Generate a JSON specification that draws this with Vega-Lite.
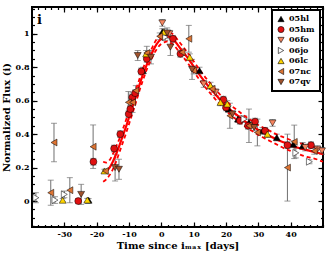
{
  "$schema": "https://vega.github.io/schema/vega-lite/v6.json",
  "width": 291,
  "height": 220,
  "autosize": "none",
  "padding": {"left": 32, "top": 7, "right": 4, "bottom": 28},
  "config": {
    "view": {"stroke": "black", "strokeWidth": 2},
    "font": "DejaVu Serif",
    "axis": {"domain": false, "grid": false, "labelFont": "DejaVu Serif", "labelFontWeight": "bold", "labelFontSize": 8, "labelColor": "black", "titleFont": "DejaVu Serif", "titleFontWeight": "bold", "titleFontSize": 10, "titleColor": "black", "tickColor": "black", "tickWidth": 1.2},
    "legend": {"orient": "top-right", "offset": 3, "strokeColor": "black", "strokeWidth": 2, "fillColor": "white", "padding": 5, "labelFont": "DejaVu Serif", "labelFontWeight": "bold", "labelFontSize": 8, "labelColor": "black", "rowPadding": 1.5, "symbolSize": 38, "titlePadding": 0}
  },
  "datasets": {
    "pts": [
      {"sn":"05hl","t":-22.5,"y":0.005,"lo":-0.005,"hi":0.015},
      {"sn":"05hl","t":-5.7,"y":0.78,"lo":0.76,"hi":0.80},
      {"sn":"05hl","t":0.3,"y":1.01,"lo":0.99,"hi":1.03},
      {"sn":"05hl","t":11.8,"y":0.78,"lo":0.76,"hi":0.80},
      {"sn":"05hl","t":20.8,"y":0.55,"lo":0.53,"hi":0.57},
      {"sn":"05hl","t":23.7,"y":0.49,"lo":0.47,"hi":0.51},
      {"sn":"05hl","t":27.1,"y":0.47,"lo":0.45,"hi":0.49},
      {"sn":"05hl","t":31.3,"y":0.42,"lo":0.40,"hi":0.44},
      {"sn":"05hl","t":35.7,"y":0.38,"lo":0.36,"hi":0.40},
      {"sn":"05hl","t":40.8,"y":0.34,"lo":0.32,"hi":0.36},
      {"sn":"05hl","t":43.7,"y":0.33,"lo":0.31,"hi":0.35},
      {"sn":"05hm","t":-25.7,"y":0.0,"lo":-0.015,"hi":0.015},
      {"sn":"05hm","t":-21.0,"y":0.235,"lo":0.215,"hi":0.255},
      {"sn":"05hm","t":-14.6,"y":0.314,"lo":0.294,"hi":0.334},
      {"sn":"05hm","t":-12.7,"y":0.40,"lo":0.38,"hi":0.42},
      {"sn":"05hm","t":-10.1,"y":0.52,"lo":0.50,"hi":0.54},
      {"sn":"05hm","t":-9.6,"y":0.55,"lo":0.53,"hi":0.57},
      {"sn":"05hm","t":-9.0,"y":0.62,"lo":0.60,"hi":0.64},
      {"sn":"05hm","t":-8.1,"y":0.645,"lo":0.625,"hi":0.665},
      {"sn":"05hm","t":-6.2,"y":0.775,"lo":0.755,"hi":0.795},
      {"sn":"05hm","t":-4.5,"y":0.85,"lo":0.83,"hi":0.87},
      {"sn":"05hm","t":3.6,"y":0.97,"lo":0.95,"hi":0.99},
      {"sn":"05hm","t":5.9,"y":0.88,"lo":0.86,"hi":0.90},
      {"sn":"05hm","t":19.2,"y":0.606,"lo":0.586,"hi":0.626},
      {"sn":"05hm","t":20.0,"y":0.56,"lo":0.54,"hi":0.58},
      {"sn":"05hm","t":24.3,"y":0.48,"lo":0.46,"hi":0.50},
      {"sn":"05hm","t":26.8,"y":0.45,"lo":0.43,"hi":0.47},
      {"sn":"05hm","t":29.0,"y":0.475,"lo":0.455,"hi":0.495},
      {"sn":"05hm","t":32.1,"y":0.42,"lo":0.40,"hi":0.44},
      {"sn":"05hm","t":39.0,"y":0.334,"lo":0.314,"hi":0.354},
      {"sn":"05hm","t":46.3,"y":0.334,"lo":0.314,"hi":0.354},
      {"sn":"06fo","t":0.3,"y":1.065,"lo":1.045,"hi":1.085},
      {"sn":"06fo","t":2.5,"y":1.0,"lo":0.98,"hi":1.02},
      {"sn":"06fo","t":13.1,"y":0.70,"lo":0.68,"hi":0.72},
      {"sn":"06fo","t":16.8,"y":0.65,"lo":0.63,"hi":0.67},
      {"sn":"06fo","t":34.4,"y":0.467,"lo":0.447,"hi":0.487},
      {"sn":"06fo","t":44.5,"y":0.32,"lo":0.30,"hi":0.34},
      {"sn":"06fo","t":48.3,"y":0.31,"lo":0.29,"hi":0.33},
      {"sn":"06fo","t":49.7,"y":0.30,"lo":0.28,"hi":0.32},
      {"sn":"06jo","t":-38.8,"y":0.02,"lo":-0.01,"hi":0.05},
      {"sn":"06jo","t":-32.9,"y":0.006,"lo":-0.014,"hi":0.026},
      {"sn":"06jo","t":-30.0,"y":0.04,"lo":0.02,"hi":0.06},
      {"sn":"06jo","t":1.2,"y":0.98,"lo":0.96,"hi":1.0},
      {"sn":"06jo","t":25.6,"y":0.49,"lo":0.47,"hi":0.51},
      {"sn":"06jo","t":41.6,"y":0.288,"lo":0.258,"hi":0.318},
      {"sn":"06jo","t":45.8,"y":0.235,"lo":0.223,"hi":0.247},
      {"sn":"06lc","t":-30.5,"y":0.005,"lo":-0.005,"hi":0.015},
      {"sn":"06lc","t":-22.9,"y":0.006,"lo":-0.004,"hi":0.016},
      {"sn":"06lc","t":-17.6,"y":0.18,"lo":0.17,"hi":0.19},
      {"sn":"06lc","t":-4.7,"y":0.88,"lo":0.86,"hi":0.90},
      {"sn":"06lc","t":0.8,"y":1.01,"lo":0.99,"hi":1.03},
      {"sn":"06lc","t":8.8,"y":0.86,"lo":0.84,"hi":0.88},
      {"sn":"06lc","t":15.2,"y":0.69,"lo":0.67,"hi":0.71},
      {"sn":"06lc","t":18.3,"y":0.59,"lo":0.57,"hi":0.61},
      {"sn":"06lc","t":20.4,"y":0.58,"lo":0.56,"hi":0.60},
      {"sn":"06lc","t":32.8,"y":0.40,"lo":0.38,"hi":0.42},
      {"sn":"07nc","t":-34.2,"y":0.05,"lo":-0.025,"hi":0.125},
      {"sn":"07nc","t":-33.2,"y":0.35,"lo":0.235,"hi":0.465},
      {"sn":"07nc","t":-28.3,"y":0.065,"lo":-0.01,"hi":0.14},
      {"sn":"07nc","t":-21.1,"y":0.325,"lo":0.195,"hi":0.455},
      {"sn":"07nc","t":-17.3,"y":0.18,"lo":0.17,"hi":0.19},
      {"sn":"07nc","t":-10.2,"y":0.59,"lo":0.525,"hi":0.655},
      {"sn":"07nc","t":-8.9,"y":0.59,"lo":0.53,"hi":0.65},
      {"sn":"07nc","t":-7.9,"y":0.66,"lo":0.63,"hi":0.69},
      {"sn":"07nc","t":-4.5,"y":0.885,"lo":0.845,"hi":0.925},
      {"sn":"07nc","t":-0.5,"y":0.985,"lo":0.965,"hi":1.005},
      {"sn":"07nc","t":6.4,"y":0.89,"lo":0.87,"hi":0.91},
      {"sn":"07nc","t":8.5,"y":0.97,"lo":0.89,"hi":1.05},
      {"sn":"07nc","t":10.0,"y":0.78,"lo":0.76,"hi":0.80},
      {"sn":"07nc","t":15.7,"y":0.67,"lo":0.65,"hi":0.69},
      {"sn":"07nc","t":21.2,"y":0.51,"lo":0.435,"hi":0.585},
      {"sn":"07nc","t":27.1,"y":0.45,"lo":0.35,"hi":0.55},
      {"sn":"07nc","t":29.7,"y":0.41,"lo":0.33,"hi":0.49},
      {"sn":"07nc","t":39.0,"y":0.2,"lo":0.0,"hi":0.4},
      {"sn":"07nc","t":41.1,"y":0.354,"lo":0.254,"hi":0.454},
      {"sn":"07nc","t":47.3,"y":0.30,"lo":0.28,"hi":0.32},
      {"sn":"07qv","t":-24.8,"y":0.04,"lo":-0.02,"hi":0.10},
      {"sn":"07qv","t":-14.3,"y":0.2,"lo":0.12,"hi":0.28},
      {"sn":"07qv","t":-13.1,"y":0.19,"lo":0.13,"hi":0.25},
      {"sn":"07qv","t":-7.3,"y":0.87,"lo":0.84,"hi":0.90},
      {"sn":"07qv","t":-3.2,"y":0.86,"lo":0.82,"hi":0.90},
      {"sn":"07qv","t":1.8,"y":1.005,"lo":0.975,"hi":1.035},
      {"sn":"07qv","t":2.8,"y":0.92,"lo":0.87,"hi":0.97},
      {"sn":"07qv","t":9.5,"y":0.787,"lo":0.727,"hi":0.847},
      {"sn":"07qv","t":22.0,"y":0.52,"lo":0.50,"hi":0.54},
      {"sn":"07qv","t":28.7,"y":0.44,"lo":0.42,"hi":0.46}
    ],
    "fit": [
      {"t":-18,"y":0.175,"lo":0.115,"hi":0.235},
      {"t":-17,"y":0.18,"lo":0.13,"hi":0.23},
      {"t":-16,"y":0.2,"lo":0.155,"hi":0.245},
      {"t":-15,"y":0.235,"lo":0.19,"hi":0.28},
      {"t":-14,"y":0.28,"lo":0.235,"hi":0.325},
      {"t":-13,"y":0.33,"lo":0.29,"hi":0.37},
      {"t":-12,"y":0.385,"lo":0.345,"hi":0.425},
      {"t":-11,"y":0.44,"lo":0.4,"hi":0.48},
      {"t":-10,"y":0.5,"lo":0.46,"hi":0.54},
      {"t":-9,"y":0.56,"lo":0.52,"hi":0.6},
      {"t":-8,"y":0.62,"lo":0.58,"hi":0.66},
      {"t":-7,"y":0.68,"lo":0.645,"hi":0.715},
      {"t":-6,"y":0.74,"lo":0.705,"hi":0.775},
      {"t":-5,"y":0.79,"lo":0.76,"hi":0.825},
      {"t":-4,"y":0.84,"lo":0.81,"hi":0.87},
      {"t":-3,"y":0.88,"lo":0.85,"hi":0.91},
      {"t":-2,"y":0.92,"lo":0.89,"hi":0.95},
      {"t":-1,"y":0.95,"lo":0.92,"hi":0.98},
      {"t":0,"y":0.97,"lo":0.94,"hi":1.0},
      {"t":1,"y":0.98,"lo":0.95,"hi":1.01},
      {"t":2,"y":0.985,"lo":0.955,"hi":1.015},
      {"t":3,"y":0.975,"lo":0.945,"hi":1.005},
      {"t":4,"y":0.96,"lo":0.93,"hi":0.99},
      {"t":5,"y":0.935,"lo":0.905,"hi":0.965},
      {"t":6,"y":0.91,"lo":0.88,"hi":0.94},
      {"t":8,"y":0.86,"lo":0.83,"hi":0.89},
      {"t":10,"y":0.805,"lo":0.775,"hi":0.835},
      {"t":12,"y":0.75,"lo":0.72,"hi":0.78},
      {"t":14,"y":0.7,"lo":0.67,"hi":0.73},
      {"t":16,"y":0.655,"lo":0.625,"hi":0.685},
      {"t":18,"y":0.61,"lo":0.58,"hi":0.64},
      {"t":20,"y":0.57,"lo":0.54,"hi":0.6},
      {"t":22,"y":0.535,"lo":0.505,"hi":0.565},
      {"t":24,"y":0.505,"lo":0.475,"hi":0.535},
      {"t":26,"y":0.475,"lo":0.445,"hi":0.505},
      {"t":28,"y":0.45,"lo":0.42,"hi":0.48},
      {"t":30,"y":0.425,"lo":0.395,"hi":0.455},
      {"t":32,"y":0.405,"lo":0.375,"hi":0.435},
      {"t":34,"y":0.385,"lo":0.355,"hi":0.415},
      {"t":36,"y":0.365,"lo":0.335,"hi":0.395},
      {"t":38,"y":0.35,"lo":0.315,"hi":0.38},
      {"t":40,"y":0.335,"lo":0.3,"hi":0.365},
      {"t":42,"y":0.32,"lo":0.285,"hi":0.35},
      {"t":44,"y":0.31,"lo":0.27,"hi":0.34},
      {"t":46,"y":0.3,"lo":0.26,"hi":0.33},
      {"t":48,"y":0.29,"lo":0.25,"hi":0.32},
      {"t":50,"y":0.28,"lo":0.235,"hi":0.31}
    ],
    "lab": [{"t": -37.7, "y": 1.08, "text": "i"}]
  },
  "layer": [
    {
      "mark": {"type": "rule", "color": "#777777", "strokeDash": [5, 4], "strokeWidth": 1},
      "encoding": {
        "y": {"datum": 0, "type": "quantitative", "scale": {"domain": [-0.155, 1.16], "nice": false, "zero": false}, "axis": null}
      }
    },
    {
      "mark": {"type": "rule", "color": "black", "strokeDash": [4, 3], "strokeWidth": 1},
      "encoding": {
        "x": {"datum": 0, "type": "quantitative", "scale": {"domain": [-40, 50], "nice": false, "zero": false}, "axis": null},
        "y": {"datum": 0, "type": "quantitative", "scale": {"domain": [-0.155, 1.16], "nice": false, "zero": false}, "axis": null},
        "y2": {"datum": 1.08}
      }
    },
    {
      "data": {"name": "pts"},
      "mark": {"type": "errorbar", "color": "#707070", "thickness": 1, "ticks": {"size": 6, "color": "#707070"}},
      "encoding": {
        "x": {"field": "t", "type": "quantitative", "scale": {"domain": [-40, 50], "nice": false, "zero": false},
              "axis": {"orient": "bottom", "values": [-30, -20, -10, 0, 10, 20, 30, 40], "tickSize": -5, "labelPadding": 8, "labelExpr": "'' + datum.value", "title": "Time since iₘₐₓ [days]", "titlePadding": 2}},
        "y": {"field": "lo", "type": "quantitative", "scale": {"domain": [-0.155, 1.16], "nice": false, "zero": false},
              "axis": {"orient": "left", "values": [0, 0.2, 0.4, 0.6, 0.8, 1], "tickSize": -5, "labelPadding": 8, "labelExpr": "'' + datum.value", "title": "Normalized Flux (i)", "titlePadding": 4}},
        "y2": {"field": "hi"}
      }
    },
    {
      "data": {"name": "fit"},
      "mark": {"type": "line", "color": "#ff0000", "strokeWidth": 2.2, "interpolate": "monotone"},
      "encoding": {
        "x": {"field": "t", "type": "quantitative", "scale": {"domain": [-40, 50], "nice": false, "zero": false},
              "axis": {"orient": "top", "values": [-30, -20, -10, 0, 10, 20, 30, 40], "tickSize": -5, "labels": false, "title": null}},
        "y": {"field": "y", "type": "quantitative", "scale": {"domain": [-0.155, 1.16], "nice": false, "zero": false},
              "axis": {"orient": "right", "values": [0, 0.2, 0.4, 0.6, 0.8, 1], "tickSize": -5, "labels": false, "title": null}}
      }
    },
    {
      "data": {"name": "fit"},
      "mark": {"type": "line", "color": "#ff0000", "strokeWidth": 1.8, "strokeDash": [4, 3], "interpolate": "monotone"},
      "encoding": {
        "x": {"field": "t", "type": "quantitative", "scale": {"domain": [-40, 50], "nice": false, "zero": false},
              "axis": {"orient": "top", "values": [-40, -38, -36, -34, -32, -30, -28, -26, -24, -22, -20, -18, -16, -14, -12, -10, -8, -6, -4, -2, 0, 2, 4, 6, 8, 10, 12, 14, 16, 18, 20, 22, 24, 26, 28, 30, 32, 34, 36, 38, 40, 42, 44, 46, 48, 50], "tickSize": -2.5, "labels": false, "title": null}},
        "y": {"field": "hi", "type": "quantitative", "scale": {"domain": [-0.155, 1.16], "nice": false, "zero": false},
              "axis": {"orient": "right", "values": [-0.15, -0.1, -0.05, 0, 0.05, 0.1, 0.15, 0.2, 0.25, 0.3, 0.35, 0.4, 0.45, 0.5, 0.55, 0.6, 0.65, 0.7, 0.75, 0.8, 0.85, 0.9, 0.95, 1, 1.05, 1.1, 1.15], "tickSize": -2.5, "labels": false, "title": null}}
      }
    },
    {
      "data": {"name": "fit"},
      "mark": {"type": "line", "color": "#ff0000", "strokeWidth": 1.8, "strokeDash": [4, 3], "interpolate": "monotone"},
      "encoding": {
        "x": {"field": "t", "type": "quantitative", "scale": {"domain": [-40, 50], "nice": false, "zero": false}, "axis": null},
        "y": {"field": "lo", "type": "quantitative", "scale": {"domain": [-0.155, 1.16], "nice": false, "zero": false}, "axis": null}
      }
    },
    {
      "data": {"name": "pts"},
      "mark": {"type": "point", "filled": true, "stroke": "black", "strokeWidth": 0.5, "size": 48, "opacity": 1},
      "encoding": {
        "x": {"field": "t", "type": "quantitative", "scale": {"domain": [-40, 50], "nice": false, "zero": false},
              "axis": {"orient": "bottom", "values": [-40, -38, -36, -34, -32, -30, -28, -26, -24, -22, -20, -18, -16, -14, -12, -10, -8, -6, -4, -2, 0, 2, 4, 6, 8, 10, 12, 14, 16, 18, 20, 22, 24, 26, 28, 30, 32, 34, 36, 38, 40, 42, 44, 46, 48, 50], "tickSize": -2.5, "labels": false, "title": null}},
        "y": {"field": "y", "type": "quantitative", "scale": {"domain": [-0.155, 1.16], "nice": false, "zero": false},
              "axis": {"orient": "left", "values": [-0.15, -0.1, -0.05, 0, 0.05, 0.1, 0.15, 0.2, 0.25, 0.3, 0.35, 0.4, 0.45, 0.5, 0.55, 0.6, 0.65, 0.7, 0.75, 0.8, 0.85, 0.9, 0.95, 1, 1.05, 1.1, 1.15], "tickSize": -2.5, "labels": false, "title": null}},
        "fill": {"field": "sn", "type": "nominal", "scale": {"domain": ["05hl", "05hm", "06fo", "06jo", "06lc", "07nc", "07qv"], "range": ["#000000", "#e01010", "#f4845f", "#ffffff", "#ffd400", "#dd7433", "#a0522d"]},
                 "legend": {"title": null, "symbolStrokeColor": "black", "symbolStrokeWidth": 0.6, "encode": {"symbols": {"update": {"stroke": {"value": "black"}, "strokeWidth": {"value": 0.6}}}}}},
        "shape": {"field": "sn", "type": "nominal", "scale": {"domain": ["05hl", "05hm", "06fo", "06jo", "06lc", "07nc", "07qv"], "range": ["triangle-up", "circle", "triangle-down", "triangle-right", "triangle-up", "triangle-left", "triangle-down"]}, "legend": {"title": null}}
      }
    },
    {
      "data": {"name": "lab"},
      "mark": {"type": "text", "font": "DejaVu Serif", "fontWeight": "bold", "fontSize": 13, "align": "center", "baseline": "middle", "color": "black"},
      "encoding": {
        "x": {"field": "t", "type": "quantitative", "scale": {"domain": [-40, 50], "nice": false, "zero": false}, "axis": null},
        "y": {"field": "y", "type": "quantitative", "scale": {"domain": [-0.155, 1.16], "nice": false, "zero": false}, "axis": null},
        "text": {"field": "text"}
      }
    }
  ],
  "resolve": {"axis": {"x": "independent", "y": "independent"}}
}
